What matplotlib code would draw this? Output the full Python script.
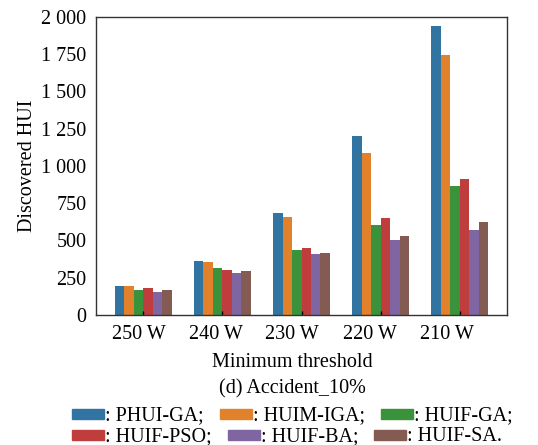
import numpy as np
import matplotlib
matplotlib.use("Agg")
import matplotlib.pyplot as plt
from matplotlib.patches import Rectangle
from matplotlib.transforms import ScaledTranslation
from matplotlib.ticker import FuncFormatter

plt.rcParams["font.family"] = ["Liberation Serif", "DejaVu Serif"]
plt.rcParams["font.size"] = 14.5

thresholds = ["250 W", "240 W", "230 W", "220 W", "210 W"]
algorithms = ["PHUI-GA", "HUIM-IGA", "HUIF-GA", "HUIF-PSO", "HUIF-BA", "HUIF-SA"]

phui_ga = [197, 360, 682, 1200, 1942]
huim_iga = [192, 355, 661, 1086, 1747]
huif_ga = [168, 317, 436, 606, 865]
huif_pso = [181, 299, 447, 652, 916]
huif_ba = [154, 279, 407, 501, 570]
huif_sa = [168, 295, 413, 530, 621]

series = [phui_ga, huim_iga, huif_ga, huif_pso, huif_ba, huif_sa]
colors = ["#3274a1", "#e1812c", "#3a923a", "#c03d3e", "#8065a3", "#845b53"]

W, H = 538, 445
fig = plt.figure(figsize=(W / 100, H / 100), dpi=100)
ax = fig.add_axes([96 / W, 1 - 315 / H, 411 / W, 298 / H])

x = np.arange(len(thresholds))
width = 0.12
for i, (vals, color) in enumerate(zip(series, colors)):
    ax.bar(x + (i - 2.5) * width, vals, width, color=color)

ax.set_xlim(-0.6, 4.6)
ax.set_ylim(0, 2000)
ax.set_yticks(np.arange(0, 2001, 250))
ax.yaxis.set_major_formatter(FuncFormatter(lambda v, _: f"{int(v):,}".replace(",", " ")))
ax.set_xticks(x)
ax.set_xticklabels(thresholds)
ax.tick_params(axis="x", direction="in", length=3, width=1, pad=7)
ax.tick_params(axis="y", length=0, pad=7)
for sp in ax.spines.values():
    sp.set_color("#333333")
    sp.set_linewidth(1.0)

# labels sit a little left of the group centres
shifts = [-4.5, -7, -9.5, -10.5, -13]
for lbl, dx in zip(ax.get_xticklabels(), shifts):
    lbl.set_transform(lbl.get_transform() + ScaledTranslation(dx / 100, 0, fig.dpi_scale_trans))

ax.set_ylabel("Discovered HUI", labelpad=3)
ax.set_xlabel("Minimum threshold", va="baseline")
ax.xaxis.set_label_coords(0.478, -(367 - 315) / 298)
fig.text(292 / W, 1 - 393 / H, "(d) Accident_10%", ha="center", va="baseline")

# legend written as two lines of swatch + text
rows = [[0, 1, 2], [3, 4, 5]]
baselines = [420, 441]
renderer = fig.canvas.get_renderer()
for row, base in zip(rows, baselines):
    xpos = 72
    for k in row:
        fig.patches.append(Rectangle((xpos / W, 1 - (base - 1) / H), 32 / W, 10 / H,
                                     transform=fig.transFigure, color=colors[k]))
        end = "." if k == len(algorithms) - 1 else ";"
        t = fig.text((xpos + 33) / W, 1 - base / H, ": " + algorithms[k] + end,
                     ha="left", va="baseline")
        bb = t.get_window_extent(renderer)
        xpos = bb.x1 + 16

fig.savefig("out.png", dpi=100)
